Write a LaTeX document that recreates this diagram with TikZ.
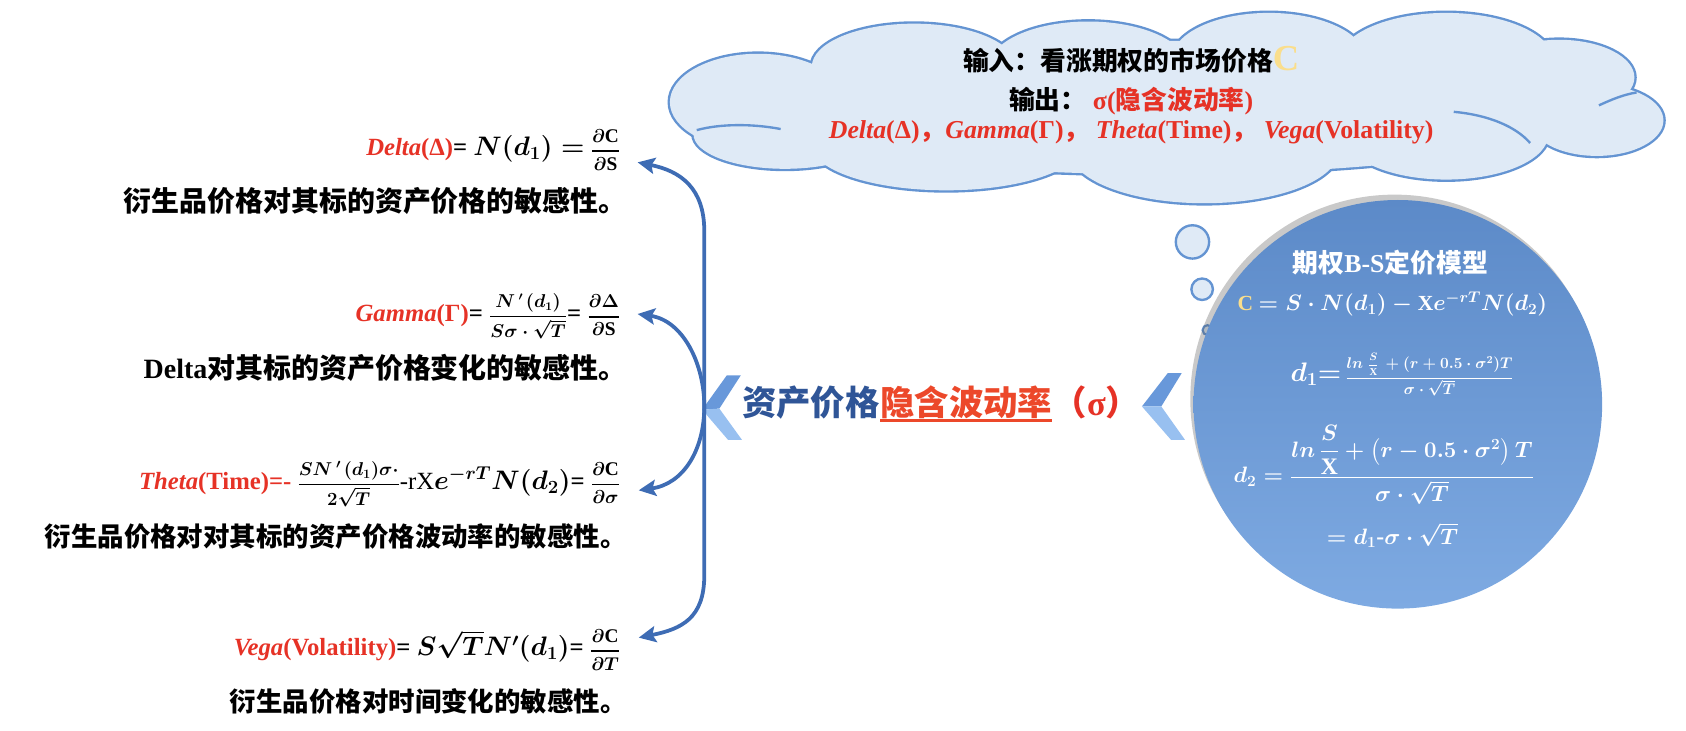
\documentclass[tikz,border=0pt]{standalone}
\usepackage{amsmath}
\usepackage{fontspec}
\setmainfont{Liberation Serif}
\newfontfamily\cjk{Noto Sans CJK SC}
\usetikzlibrary{arrows.meta,shadows,shapes.geometric}
\definecolor{myred}{RGB}{230,50,38}
\definecolor{orred}{RGB}{236,72,42}
\definecolor{darkblue}{RGB}{47,85,151}
\definecolor{arrowblue}{RGB}{62,108,180}
\definecolor{cloudfill}{RGB}{223,234,246}
\definecolor{cloudline}{RGB}{100,148,210}
\definecolor{balltop}{RGB}{92,138,200}
\definecolor{ballbot}{RGB}{126,170,226}
\definecolor{cyellow}{RGB}{250,222,140}
\definecolor{chevup}{RGB}{104,152,218}
\definecolor{chevlo}{RGB}{152,192,240}
\newcommand{\setfs}[1]{\fontsize{#1}{#1}\selectfont}
% display fraction at a given size
\newcommand{\sfr}[3]{{\setfs{#1}$\dfrac{#2}{#3}$}}
% partial-derivative fraction with a thick bar
\newcommand{\pfr}[2]{{\setfs{18}$\genfrac{}{}{1.6pt}{0}{#1}{#2}$}}
% small S over X with a little air
\newcommand{\SX}{\genfrac{}{}{}{1}{S\rule[-3pt]{0pt}{0pt}}{\mathrm{X}\rule{0pt}{9pt}}}
% N prime with air round the prime
\newcommand{\Np}{N\,'\kern2.5pt}
\begin{document}
\begin{tikzpicture}[x=1pt,y=-1pt,
  arr/.style={draw=arrowblue, line width=3.5pt,
    {Stealth[length=16pt,width=15pt,inset=3pt]}-{Stealth[length=16pt,width=15pt,inset=3pt]}},
  formula/.style={anchor=base east, inner sep=0pt, font=\setfs{23}\bfseries\boldmath},
  desc/.style={anchor=base east, inner sep=0pt, font=\setfs{26}\bfseries\cjk},
  cloudtext/.style={anchor=base, inner sep=0pt, font=\setfs{24}\bfseries},
  balltext/.style={inner sep=0pt, text=white, font=\setfs{22}\bfseries\boldmath},
  centertext/.style={anchor=base west, inner sep=0pt, font=\setfs{32}\bfseries\cjk},
  innerarc/.style={cloudline, line width=2.2pt},
]
\useasboundingbox (0,0) rectangle (1568,679);

% ---------- cloud ----------
\foreach \cx/\cy/\rx/\ry in {705/95/82/45, 850/62/95/40, 1012/62/92/42, 1180/55/90/43,
   1345/57/100/45, 1450/72/70/35, 1485/112/62/33, 1345/125/95/42, 1120/140/125/49,
   880/135/125/42, 730/125/85/32, 1080/100/400/62}
  \draw[cloudline, line width=4.4pt] (\cx,\cy) ellipse [x radius=\rx pt, y radius=\ry pt];
\foreach \cx/\cy/\rx/\ry in {705/95/82/45, 850/62/95/40, 1012/62/92/42, 1180/55/90/43,
   1345/57/100/45, 1450/72/70/35, 1485/112/62/33, 1345/125/95/42, 1120/140/125/49,
   880/135/125/42, 730/125/85/32, 1080/100/400/62}
  \fill[cloudfill] (\cx,\cy) ellipse [x radius=\rx pt, y radius=\ry pt];
\draw[innerarc] (648,121) .. controls (670,115) and (700,115) .. (726,120);
\draw[innerarc] (1352,104) .. controls (1385,107) and (1410,118) .. (1423,133);
\draw[innerarc] (1487,98) .. controls (1500,92) and (1510,88) .. (1522,86);

\node[cloudtext] (in1) at (1052,66) {{\cjk 输入：看涨期权的市场价格}{\setfs{34}\color{cyellow}C}};
\node[cloudtext] (in2) at (1052,102) {{\cjk 输出：} {\color{myred}σ({\cjk 隐含波动率})}};
\node[cloudtext, text=myred] (in3) at (1052,129) {\textit{Delta}(Δ){\cjk ，}\textit{Gamma}(Γ){\cjk ，} \textit{Theta}(Time){\cjk ，} \textit{Vega}(Volatility)};

% ---------- bubbles ----------
\draw[cloudline, fill=cloudfill, line width=2.2pt] (1109,225) circle [radius=15.5pt];
\draw[cloudline, fill=cloudfill, line width=2.2pt] (1118,269) circle [radius=10pt];
\draw[cloudline, fill=cloudfill, line width=2pt] (1123,307) circle [radius=4.6pt];

% ---------- B-S ball ----------
\node[circle, minimum size=380pt, inner sep=0pt,
      top color=balltop, bottom color=ballbot,
      drop shadow={shadow xshift=-3pt, shadow yshift=5pt, fill=black!70, opacity=0.3}] (ball) at (1300,376) {};
\node[balltext, anchor=base, font=\setfs{24}\bfseries] (bsT) at (1293,253) {{\cjk 期权}B-S{\cjk 定价模型}};
\node[balltext, anchor=base, font=\setfs{20}\bfseries\boldmath] (bsC) at (1295,289) {{\color{cyellow}C} $= S\cdot N(d_1) - \mathrm{X}e^{-rT}N(d_2)$};
\node[balltext, anchor=base west, font=\setfs{23}\bfseries\boldmath] (bsD1) at (1200,355) {$d_1{=}$\,\sfr{14}{ln\;\SX\,+(r+0.5\cdot\sigma^2)T\rule[-3pt]{0pt}{0pt}}{\sigma\cdot\sqrt{T}}};
\node[balltext, anchor=base west] (bsD2) at (1147,449) {$d_2 = \dfrac{ln\,\dfrac{S}{\mathrm{X}}+\left(r-0.5\cdot\sigma^2\right)T\rule[-4pt]{0pt}{0pt}}{\sigma\cdot\sqrt{T}}$};
\node[balltext, anchor=base] (bsD3) at (1295,506) {$= d_1\text{-}\sigma\cdot\sqrt{T}$};

% ---------- chevrons ----------
\fill[chevup] (653,381) -- (676,349) -- (689,349) -- (669,380) -- cycle;
\fill[chevlo] (653,381) -- (669,380) -- (690,409) -- (677,409) -- cycle;
\fill[chevup] (1062,378) -- (1086,347) -- (1099,347) -- (1080,378) -- cycle;
\fill[chevlo] (1062,378) -- (1080,378) -- (1102,409) -- (1089,409) -- cycle;

% ---------- centre text ----------
\node[centertext, text=darkblue] (cA) at (690,386) {资产价格};
\node[centertext, text=orred] (cB) at (cA.base east) {隐含波动率};
\node[centertext, text=myred] (cC) at (cB.base east) {（{\rmfamily σ}）};
\draw[orred, line width=2.4pt] ([yshift=-5pt]cB.base west) -- ([yshift=-5pt]cB.base east);

% ---------- left formulas ----------
\node[formula] (fDelta) at (577,145) {{\color{myred}\textit{Delta}(Δ)}= $N(d_1) =$ \pfr{\partial \mathrm{C}}{\partial \mathrm{S}}};
\node[desc] (dDelta) at (583,197) {衍生品价格对其标的资产价格的敏感性。};

\node[formula] (fGamma) at (577,299) {{\color{myred}\textit{Gamma}(Γ)}= \sfr{16}{\Np(d_1)\rule[-2pt]{0pt}{0pt}}{S\sigma\cdot\sqrt{T}}= \pfr{\partial\Delta}{\partial \mathrm{S}}};
\node[desc] (dGamma) at (583,352) {{\rmfamily Delta}对其标的资产价格变化的敏感性。};

\node[formula] (fTheta) at (577,455) {{\color{myred}\textit{Theta}(Time)=-} \sfr{17}{S\Np(d_1)\sigma\cdot}{2\sqrt{T}}{\mdseries -rX}$e^{-rT}N(d_2)$= \pfr{\partial \mathrm{C}}{\partial\sigma}};
\node[desc, font=\setfs{24.6}\bfseries\cjk] (dTheta) at (583,508) {衍生品价格对对其标的资产价格波动率的敏感性。};

\node[formula] (fVega) at (577,610) {{\color{myred}\textit{Vega}(Volatility)}= $S\sqrt{T}N'(d_1)$= \pfr{\partial \mathrm{C}}{\partial T}};
\node[desc, font=\setfs{24.6}\bfseries\cjk] (dVega) at (583,662) {衍生品价格对时间变化的敏感性。};

% ---------- connectors ----------
\coordinate (tipD) at (593,151);
\coordinate (tipG) at (593,292);
\coordinate (tipT) at (594,456);
\coordinate (tipV) at (594,593);
\coordinate (spineTop) at (655,215);
\coordinate (spineBot) at (655,535);
\coordinate (apex) at (655,378);
\draw[arr] (tipD) .. controls +(40,8) and +(0,-40) .. (spineTop) -- (spineBot) .. controls +(0,40) and +(40,-8) .. (tipV);
\draw[arr] (tipG) .. controls +(42,6) and +(0,-40) .. (apex) .. controls +(0,40) and +(42,-6) .. (tipT);
\end{tikzpicture}
\end{document}
